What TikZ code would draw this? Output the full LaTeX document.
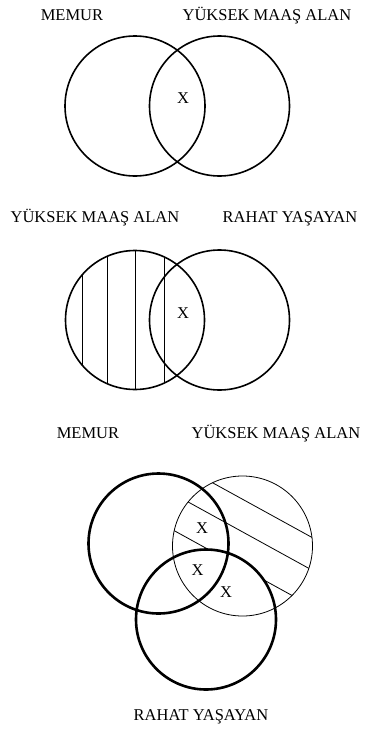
\documentclass[tikz,border=0pt]{standalone}
\usepackage{fontspec}
\setmainfont{Liberation Serif}
\usepackage{tikz}

\begin{document}
\begin{tikzpicture}[x=1pt, y=-1pt,
  lbl/.style={font=\fontsize{16.5}{20}\selectfont, inner sep=0pt, anchor=base},
  set/.style={draw, line width=1.6pt},
  thick set/.style={draw, line width=2.6pt},
  thin set/.style={draw, line width=0.8pt},
  hatch/.style={line width=0.8pt}]
 \useasboundingbox (0,0) rectangle (365,731);

 % first pair
 \coordinate (memA) at (135,106);
 \coordinate (maasA) at (219.5,106);
 \node[lbl] (memurA) at (72,20) {MEMUR};
 \node[lbl] (yuksekA) at (267,20) {YÜKSEK MAAŞ ALAN};
 \draw[set] (memA) circle (70);
 \draw[set] (maasA) circle (70);
 \node[lbl] (xA) at (183,103) {X};

 % second pair
 \coordinate (maasB) at (135,320);
 \coordinate (rahatB) at (219.5,320);
 \node[lbl] (yuksekB) at (95,222) {YÜKSEK MAAŞ ALAN};
 \node[lbl] (rahatlblB) at (290,222) {RAHAT YAŞAYAN};
 \begin{scope}
  \clip (maasB) circle (69.5);
  \foreach \hx in {82,107,135,164}{
    \draw[hatch] (\hx,240) -- (\hx,400);
  }
 \end{scope}
 \draw[set] (maasB) circle (69.5);
 \draw[set] (rahatB) circle (70);
 \node[lbl] (xB) at (183,318) {X};

 % three sets
 \coordinate (memC) at (158.5,543.5);
 \coordinate (maasC) at (242.5,546);
 \coordinate (rahatC) at (206,619.5);
 \node[lbl] (memurC) at (88,438) {MEMUR};
 \node[lbl] (yuksekC) at (276,438) {YÜKSEK MAAŞ ALAN};
 \node[lbl] (rahatlblC) at (201,720) {RAHAT YAŞAYAN};
 \begin{scope}
  \clip (maasC) circle (70);
  \foreach \hx/\hy in {213/483,190/503,173/530}{
    \draw[hatch] (\hx-60,\hy-33) -- (\hx+160,\hy+88);
  }
 \end{scope}
 \fill[white] (rahatC) circle (70);
 \draw[thin set] (maasC) circle (70);
 \draw[thick set] (memC) circle (70);
 \draw[thick set] (rahatC) circle (70);
 \node[lbl] (xC1) at (202,533) {X};
 \node[lbl] (xC2) at (197.5,575) {X};
 \node[lbl] (xC3) at (226,597) {X};
\end{tikzpicture}
\end{document}
